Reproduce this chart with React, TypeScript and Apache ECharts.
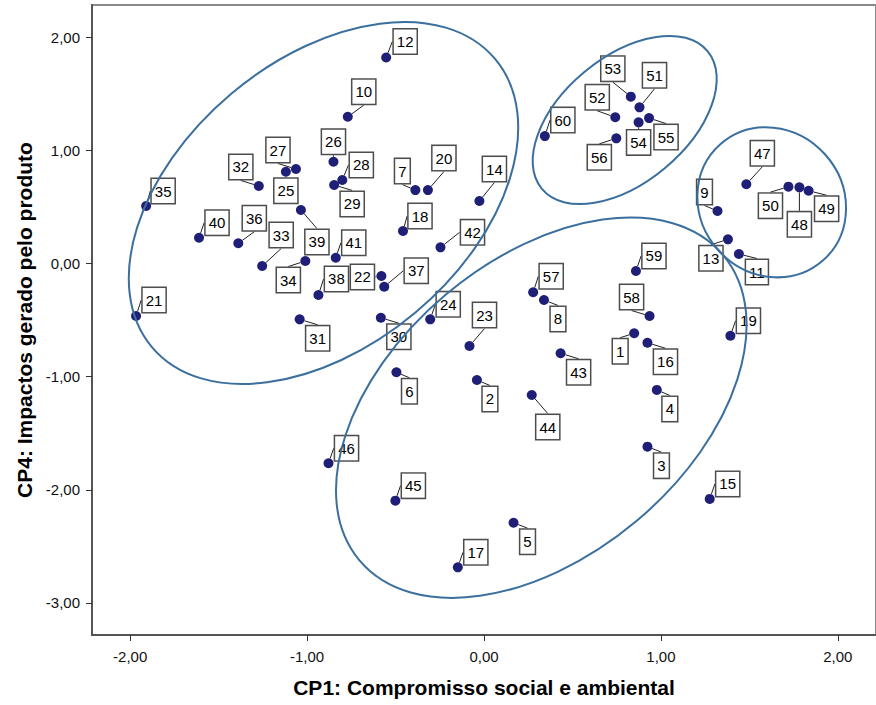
import React, { useEffect, useRef } from 'react';
import * as echarts from 'echarts';

const FONT = "'Liberation Sans', Arial, Helvetica, sans-serif";

// Case numbers (1..60)
const caseIds = [
  1, 2, 3, 4, 5, 6, 7, 8, 9, 10,
  11, 12, 13, 14, 15, 16, 17, 18, 19, 20,
  21, 22, 23, 24, 25, 26, 27, 28, 29, 30,
  31, 32, 33, 34, 35, 36, 37, 38, 39, 40,
  41, 42, 43, 44, 45, 46, 47, 48, 49, 50,
  51, 52, 53, 54, 55, 56, 57, 58, 59, 60,
];

// CP1: Compromisso social e ambiental
const cp1 = [
  0.849, -0.040, 0.924, 0.977, 0.167, -0.495, -0.388, 0.339, 1.320, -0.770,
  1.441, -0.553, 1.379, -0.026, 1.276, 0.924, -0.148, -0.458, 1.393, -0.317,
  -1.967, -0.580, -0.082, -0.304, -1.120, -0.851, -1.063, -0.801, -0.847, -0.583,
  -1.042, -1.273, -1.254, -1.010, -1.910, -1.389, -0.564, -0.936, -1.035, -1.611,
  -0.838, -0.246, 0.433, 0.270, -0.501, -0.879, 1.483, 1.783, 1.835, 1.721,
  0.879, 0.742, 0.830, 0.874, 0.933, 0.748, 0.278, 0.936, 0.859, 0.344,
];

// CP4: Impactos gerado pelo produto
const cp4 = [
  -0.617, -1.030, -1.619, -1.118, -2.291, -0.962, 0.648, -0.323, 0.463, 1.296,
  0.083, 1.819, 0.213, 0.551, -2.081, -0.701, -2.685, 0.286, -0.639, 0.648,
  -0.465, -0.111, -0.730, -0.494, 0.810, 0.898, 0.834, 0.737, 0.693, -0.480,
  -0.494, 0.684, -0.023, 0.021, 0.507, 0.178, -0.206, -0.279, 0.472, 0.227,
  0.050, 0.142, -0.794, -1.163, -2.096, -1.766, 0.699, 0.672, 0.642, 0.678,
  1.379, 1.291, 1.473, 1.246, 1.284, 1.105, -0.255, -0.465, -0.067, 1.125,
];

const xTicks = [-2, -1, 0, 1, 2];
const yTicks = [-3, -2, -1, 0, 1, 2];

// Label box placement relative to its point (layout only, px)
const labelOffsets: [number, number][] = [
  [-14, 18], [13, 19], [14, 19], [13, 19], [14, 19], [13, 19], [-13, -19], [14, 19], [-13, -19], [16, -25],
  [18, 18], [19, -16], [-17, 19], [15, -32], [18, -15], [18, 19], [18, -15], [17, -15], [18, -15], [16, -32],
  [18, -16], [-19, 1], [15, -31], [18, -15], [0, 19], [0, -20], [-18, -19], [19, -15], [18, 19], [18, 19],
  [18, 19], [-18, -19], [19, -31], [-17, 19], [17, -15], [16, -25], [32, -16], [18, -16], [16, 32], [18, -15],
  [18, -15], [32, -15], [18, 19], [16, 32], [18, -15], [18, -15], [16, -31], [0, 37], [18, 18], [-18, 19],
  [15, -32], [-18, -20], [-18, -28], [0, 20], [17, 19], [-17, 19], [18, -16], [-18, -19], [18, -15], [18, -16],
];

// Group ellipses (annotation overlay, px): cx, cy, rx, ry, rotation deg
const ellipses = [
  { cx: 323.5, cy: 203, rx: 224, ry: 143, rot: 40 },
  { cx: 624.7, cy: 120, rx: 107.7, ry: 62.7, rot: 39.7 },
  { cx: 771.7, cy: 202.3, rx: 77.5, ry: 71.7, rot: -48.5 },
  { cx: 541.3, cy: 407.7, rx: 237.4, ry: 148, rot: 40 },
];

const fmt = (v: number) => v.toFixed(2).replace('.', ',');

export default function App() {
  const ref = useRef<HTMLDivElement>(null);

  useEffect(() => {
    if (!ref.current) return;
    const chart = echarts.init(ref.current, null, { renderer: 'svg' });
    chart.setOption({
      animation: false,
      backgroundColor: '#ffffff',
      textStyle: { fontFamily: FONT },
      grid: {
        left: 92,
        right: -4,
        top: 5,
        bottom: 70,
        show: true,
        borderColor: '#8a8a8a',
        borderWidth: 2,
      },
      xAxis: {
        type: 'value',
        min: -2.216,
        max: 2.216,
        name: 'CP1: Compromisso social e ambiental',
        nameLocation: 'middle',
        nameGap: 42,
        nameTextStyle: { fontFamily: FONT, fontWeight: 'bold', fontSize: 21, color: '#000' },
        axisLine: { show: true, onZero: false, lineStyle: { color: '#555', width: 2 } },
        axisTick: { show: true, length: 6, customValues: xTicks, lineStyle: { color: '#333', width: 1 } },
        axisLabel: { customValues: xTicks, formatter: fmt, fontSize: 15, color: '#111', margin: 14, fontFamily: FONT },
        splitLine: { show: false },
      },
      yAxis: {
        type: 'value',
        min: -3.283,
        max: 2.283,
        name: 'CP4: Impactos gerado pelo produto',
        nameLocation: 'middle',
        nameGap: 43,
        nameRotate: 90,
        nameTextStyle: { fontFamily: FONT, fontWeight: 'bold', fontSize: 21, color: '#000' },
        axisLine: { show: true, onZero: false, lineStyle: { color: '#555', width: 2 } },
        axisTick: { show: true, length: 6, customValues: yTicks, lineStyle: { color: '#333', width: 1 } },
        axisLabel: { customValues: yTicks, formatter: fmt, fontSize: 15, color: '#111', margin: 12, fontFamily: FONT },
        splitLine: { show: false },
      },
      series: [
        {
          type: 'scatter',
          data: caseIds.map((id, i) => [cp1[i], cp4[i], id]),
          symbol: 'circle',
          symbolSize: 10,
          itemStyle: { color: '#1f1f78', opacity: 1 },
          emphasis: { disabled: true },
          label: {
            show: true,
            position: 'inside',
            formatter: (p: any) => String(p.value[2]),
            color: '#000',
            fontSize: 15,
            fontFamily: FONT,
            lineHeight: 17,
            backgroundColor: '#ffffff',
            borderColor: '#4d4d4d',
            borderWidth: 1.5,
            padding: [4, 3, 3, 3],
          },
          labelLine: { show: true, lineStyle: { color: '#222', width: 1 } },
          labelLayout: (params: any) => {
            const o = labelOffsets[params.dataIndex] || [18, -15];
            return { dx: o[0], dy: o[1] };
          },
        },
      ],
      graphic: ellipses.map((e) => ({
        type: 'ellipse',
        x: e.cx,
        y: e.cy,
        rotation: (e.rot * Math.PI) / 180,
        shape: { cx: 0, cy: 0, rx: e.rx, ry: e.ry },
        style: { fill: 'none', stroke: '#3b6f9e', lineWidth: 2 },
        z: 100,
        silent: true,
      })),
    });
    return () => chart.dispose();
  }, []);

  return (
    <div
      ref={ref}
      style={{ position: 'absolute', left: 0, top: 0, width: 876, height: 705 }}
    />
  );
}
